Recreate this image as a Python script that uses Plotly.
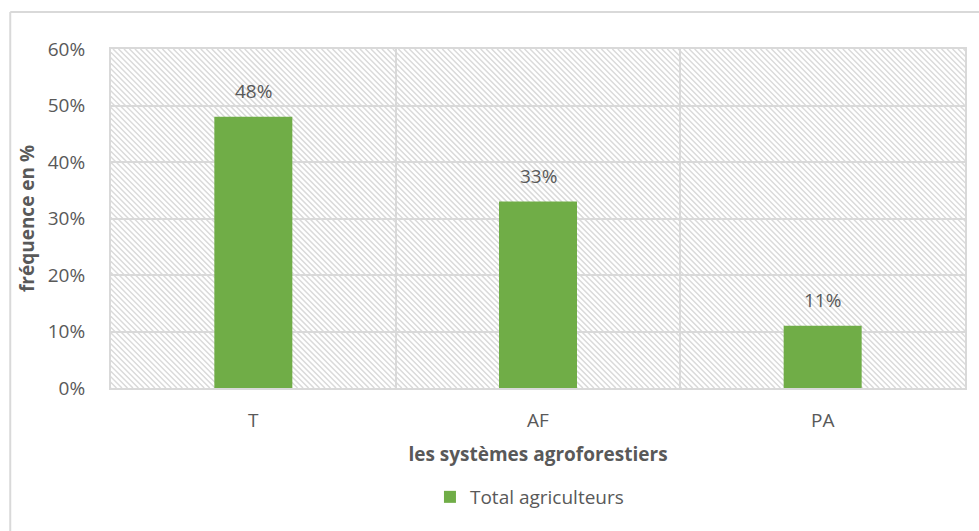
import base64
import plotly.graph_objects as go

# Agroforestry systems and share of farmers practising each
systemes = ["T", "AF", "PA"]
frequences = [0.48, 0.33, 0.11]
etiquettes = ["48%", "33%", "11%"]
serie = "Total agriculteurs"

W, H = 979, 531
ML, MR, MT, MB = 111, 12, 49, 143
PW, PH = W - ML - MR, H - MT - MB

GREEN = "#70AD47"
GRID = "#D9D9D9"
TXT = "#595959"
FONT = "Open Sans, Lato, sans-serif"
FS = 19

# Diagonal hatch used as the plot-area fill
step = 5.5
lines = []
k = -PH
while k < PW + PH:
    lines.append(f'<line x1="{k:.2f}" y1="0" x2="{k + PH:.2f}" y2="{PH}"/>')
    k += step
svg = (
    f'<svg xmlns="http://www.w3.org/2000/svg" width="{PW}" height="{PH}" '
    f'viewBox="0 0 {PW} {PH}" preserveAspectRatio="none">'
    f'<rect width="{PW}" height="{PH}" fill="white"/>'
    f'<g stroke="#DADADA" stroke-width="1.5">{"".join(lines)}</g></svg>'
)
hatch = "data:image/svg+xml;base64," + base64.b64encode(svg.encode()).decode()

fig = go.Figure()
fig.add_trace(go.Bar(
    x=systemes, y=frequences, name=serie,
    marker=dict(color=GREEN, line=dict(width=0)),
    width=0.274, showlegend=True,
))

# value labels above each bar
for s, v, t in zip(systemes, frequences, etiquettes):
    fig.add_annotation(x=s, y=v, text=t, showarrow=False, yanchor="bottom",
                       yshift=11, font=dict(size=FS, color=TXT, family=FONT))

# chart-area frame (left and top edges)
def px_x(p):
    return (p - ML) / PW

def px_y(p):
    return 1 - (p - MT) / PH

fig.add_shape(type="line", xref="paper", yref="paper",
              x0=px_x(10), x1=px_x(10), y0=px_y(12), y1=px_y(H + 5),
              line=dict(color=GRID, width=2))
fig.add_shape(type="line", xref="paper", yref="paper",
              x0=px_x(10), x1=px_x(W + 5), y0=px_y(12), y1=px_y(12),
              line=dict(color=GRID, width=2))

fig.update_layout(
    width=W, height=H,
    margin=dict(l=ML, r=MR, t=MT, b=MB),
    paper_bgcolor="white", plot_bgcolor="rgba(0,0,0,0)",
    font=dict(family=FONT, color=TXT, size=FS),
    images=[dict(source=hatch, xref="paper", yref="paper", x=0, y=1,
                 sizex=1, sizey=1, xanchor="left", yanchor="top",
                 sizing="stretch", layer="below")],
    bargap=0.726,
    xaxis=dict(
        type="category", tickson="boundaries", showgrid=True,
        gridcolor=GRID, gridwidth=2, ticks="", showline=True, mirror=True,
        linecolor=GRID, linewidth=2, ticklabelstandoff=14,
        tickfont=dict(size=FS, color=TXT),
        title=dict(text="<b>les systèmes agroforestiers</b>", standoff=16,
                   font=dict(size=FS, color=TXT)),
    ),
    yaxis=dict(
        range=[0, 0.6], dtick=0.1, tickformat=".0%", showgrid=True,
        gridcolor=GRID, gridwidth=2, zeroline=False, showline=True,
        mirror=True, linecolor=GRID, linewidth=2, ticks="",
        ticklabelstandoff=20, tickfont=dict(size=FS, color=TXT),
        title=dict(text="<b>fréquence en %</b>", standoff=8,
                   font=dict(size=FS, color=TXT)),
    ),
    legend=dict(orientation="h", x=0.49, xanchor="center", y=px_y(497),
                yanchor="middle", font=dict(size=FS, color=TXT),
                itemwidth=30),
)

fig.write_html("out.html")
